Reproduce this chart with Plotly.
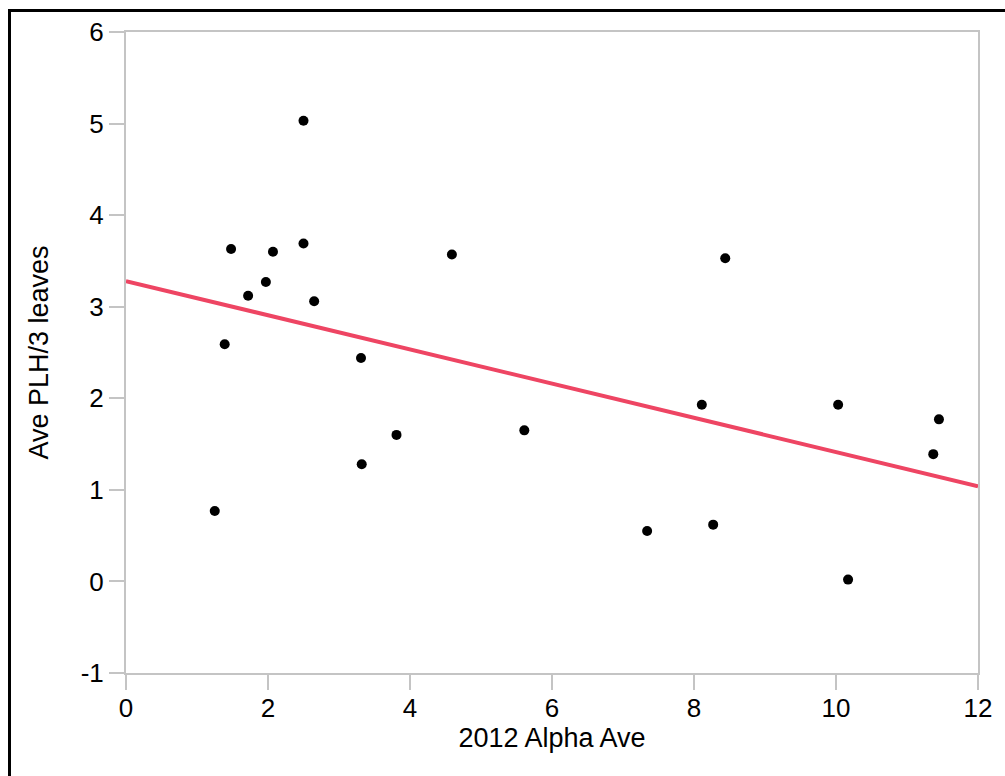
import plotly.graph_objects as go

# Data
alpha_ave = [1.25, 1.39, 1.48, 1.72, 1.97, 2.07, 2.50, 2.50, 2.65, 3.31, 3.32,
             3.81, 4.59, 5.61, 7.34, 8.11, 8.27, 8.44, 10.03, 10.17, 11.37, 11.45]
plh_leaves = [0.77, 2.59, 3.63, 3.12, 3.27, 3.60, 5.03, 3.69, 3.06, 2.44, 1.28,
              1.60, 3.57, 1.65, 0.55, 1.93, 0.62, 3.53, 1.93, 0.02, 1.39, 1.77]
fit_x = [0, 12]
fit_y = [3.28, 1.04]

x_ticks = [0, 2, 4, 6, 8, 10, 12]
x_tick_labels = ["0", "2", "4", "6", "8", "10", "12"]
y_ticks = [-1, 0, 1, 2, 3, 4, 5, 6]
y_tick_labels = ["-1", "0", "1", "2", "3", "4", "5", "6"]

W, H = 1005, 776
L, R, T, B = 126, 27, 32, 103

fig = go.Figure()
fig.add_trace(go.Scatter(x=fit_x, y=fit_y, mode="lines",
                         line=dict(color="#EE4563", width=4),
                         hoverinfo="skip", showlegend=False))
fig.add_trace(go.Scatter(x=alpha_ave, y=plh_leaves, mode="markers",
                         marker=dict(color="black", size=10),
                         showlegend=False))

axis_col = "#c4c4c4"
font_fam = "Liberation Sans, Arial, sans-serif"
common = dict(showgrid=False, zeroline=False, showline=True, linecolor=axis_col,
              linewidth=2, mirror=True, ticks="outside", ticklen=15,
              tickcolor=axis_col, tickwidth=2,
              tickfont=dict(family=font_fam, size=26, color="black"))

fig.update_xaxes(range=[0, 12], tickvals=x_ticks, ticktext=x_tick_labels,
                 ticklabelstandoff=-4,
                 title=dict(text="2012 Alpha Ave",
                            font=dict(family=font_fam, size=27, color="black"),
                            standoff=2),
                 **common)
fig.update_yaxes(range=[-1, 6], tickvals=y_ticks, ticktext=y_tick_labels,
                 title=dict(text="Ave PLH/3 leaves",
                            font=dict(family=font_fam, size=27, color="black"),
                            standoff=24),
                 **common)

pw, ph = W - L - R, H - T - B
def px_x(p):
    return (p - L) / pw
def px_y(p):
    return (H - B - p) / ph

# outer black frame (only left and top edges are visible in the reference)
fig.add_shape(type="line", xref="paper", yref="paper",
              x0=px_x(9.5), x1=px_x(9.5), y0=px_y(9), y1=px_y(800),
              line=dict(color="black", width=3))
fig.add_shape(type="line", xref="paper", yref="paper",
              x0=px_x(8), x1=px_x(1030), y0=px_y(10.5), y1=px_y(10.5),
              line=dict(color="black", width=3))

fig.update_layout(width=W, height=H, margin=dict(l=L, r=R, t=T, b=B),
                  paper_bgcolor="white", plot_bgcolor="white")

fig.write_html("out.html", config={"displayModeBar": False},
               post_script="document.body.style.margin='0';")
